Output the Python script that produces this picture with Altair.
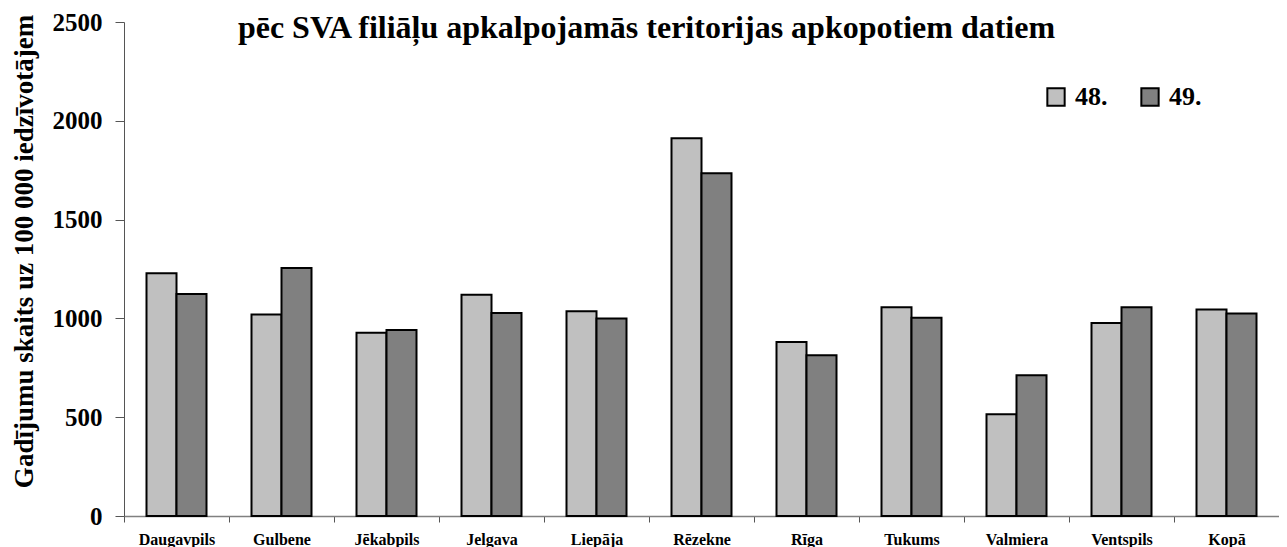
import altair as alt
import pandas as pd

categories = ["Daugavpils", "Gulbene", "Jēkabpils", "Jelgava", "Liepāja", "Rēzekne",
              "Rīga", "Tukums", "Valmiera", "Ventspils", "Kopā"]
series_names = ["48.", "49."]
values_48 = [1228, 1020, 927, 1120, 1036, 1912, 880, 1057, 515, 977, 1045]
values_49 = [1124, 1255, 941, 1027, 999, 1735, 814, 1003, 712, 1057, 1025]
y_ticks = [0, 500, 1000, 1500, 2000, 2500]
title_text = "pēc SVA filiāļu apkalpojamās teritorijas apkopotiem datiem"
y_title = "Gadījumu skaits uz 100 000 iedzīvotājem"

rows = []
for c, a, b in zip(categories, values_48, values_49):
    rows.append({"kat": c, "serija": series_names[0], "v": a})
    rows.append({"kat": c, "serija": series_names[1], "v": b})
df = pd.DataFrame(rows)

FONT = "Liberation Serif"

chart = alt.Chart(df).mark_bar(stroke="black", strokeWidth=2).encode(
    x=alt.X("kat:N", sort=categories, title=None,
            scale=alt.Scale(paddingInner=0, paddingOuter=0),
            axis=alt.Axis(labelAngle=0, labelFont=FONT, labelFontSize=16, labelFontWeight="bold",
                          labelColor="black", labelBaseline="alphabetic", labelPadding=22,
                          tickBand="extent", tickSize=6, tickColor="#555555",
                          domainColor="#808080", domainWidth=1.5, grid=False)),
    xOffset=alt.XOffset("serija:N", sort=series_names,
                        scale=alt.Scale(paddingInner=0, paddingOuter=0.75)),
    y=alt.Y("v:Q", scale=alt.Scale(domain=[0, 2500], nice=False),
            axis=alt.Axis(values=y_ticks, format="d", title=y_title, titleFont=FONT,
                          titleFontSize=27, titleFontWeight="bold", titleColor="black",
                          titleAngle=-90, titleAlign="center", titleBaseline="alphabetic",
                          titleX=-92, titleY=229,
                          labelFont=FONT, labelFontSize=25, labelFontWeight="bold",
                          labelColor="black", labelPadding=13, tickSize=9,
                          tickColor="#555555", domainColor="#555555", grid=False)),
    color=alt.Color("serija:N", sort=series_names,
                    scale=alt.Scale(domain=series_names, range=["#C0C0C0", "#808080"]),
                    legend=alt.Legend(title=None, orient="none", legendX=919, legendY=62,
                                      direction="horizontal", columns=2, columnPadding=29,
                                      symbolType="square", symbolSize=300,
                                      symbolStrokeColor="black", symbolStrokeWidth=2,
                                      labelFont=FONT, labelFontSize=26, labelFontWeight="bold",
                                      labelColor="black", labelOffset=6, padding=0)),
).properties(
    width=1155,
    height=494,
    title=alt.TitleParams(title_text, font=FONT, fontSize=32, fontWeight="bold",
                          color="black", frame="group", anchor="middle", dx=-55,
                          baseline="alphabetic", offset=0, dy=60),
    padding={"left": 116, "top": 14, "right": 0, "bottom": 40},
    autosize=alt.AutoSizeParams(type="none"),
).configure_view(stroke=None)

chart.save("out.html", embed_options={"renderer": "svg", "actions": False})
